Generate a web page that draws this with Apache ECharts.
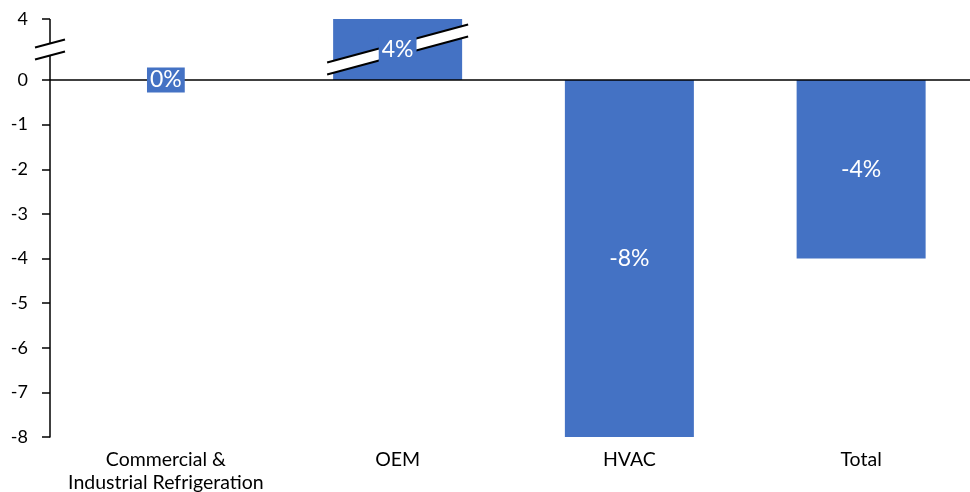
<!DOCTYPE html>
<html><head><meta charset="utf-8">
<script src="https://cdn.jsdelivr.net/npm/echarts@6/dist/echarts.min.js"></script>
<style>html,body{margin:0;padding:0;background:#fff}#c{width:970px;height:492px}</style>
</head><body><div id="c"></div><script>
const categories = ['Commercial &\nIndustrial Refrigeration', 'OEM', 'HVAC', 'Total'];
const values = [0, 4, -8, -4];
const valueLabels = ['0%', '4%', '-8%', '-4%'];
const yTicks = [4, 0, -1, -2, -3, -4, -5, -6, -7, -8];
const breakStart = 0, breakEnd = 4;

const BLUE = '#4472C4';
const FONT = 'Lato';
const BAR_W = 129;
const chart = echarts.init(document.getElementById('c'), null, {renderer: 'canvas'});
const option = {
  animation: false,
  grid: {left: 50, top: 19, width: 927, bottom: 55, outerBoundsMode: 'none', containLabel: false},
  xAxis: {
    type: 'category', data: categories, position: 'bottom',
    axisLine: {show: false}, axisTick: {show: false},
    axisLabel: {fontFamily: FONT, fontSize: 19.5, color: '#000', margin: 11, lineHeight: 23, interval: 0}
  },
  yAxis: {
    type: 'value', min: -8, max: 4, interval: 1,
    breaks: [{start: breakStart, end: breakEnd, gap: 1.367}],
    breakArea: {show: false},
    axisLine: {show: true, lineStyle: {color: '#000', width: 1.5}},
    axisTick: {show: true, length: 8, lineStyle: {color: '#000', width: 1.5}},
    splitLine: {show: false},
    axisLabel: {
      formatter: v => yTicks.includes(v) ? String(v) : '',
      fontFamily: FONT, fontSize: 18, color: '#000', margin: 22
    }
  },
  series: [
    {
      type: 'bar', data: values, barWidth: BAR_W, itemStyle: {color: BLUE}, z: 2,
      markLine: {
        silent: true, symbol: 'none', label: {show: false},
        lineStyle: {color: '#000', width: 1.5, type: 'solid'},
        data: [{yAxis: 0}]
      }
    },
    {
      type: 'bar', barWidth: BAR_W, barGap: '-100%', z: 5,
      itemStyle: {color: 'rgba(0,0,0,0)'},
      data: values.map((v, i) => ({
        value: v,
        label: (i <= 1) ? {backgroundColor: BLUE, padding: [1, 3]} : {}
      })),
      label: {
        show: true, position: 'inside', color: '#fff', fontFamily: FONT, fontSize: 23,
        formatter: p => valueLabels[p.dataIndex]
      }
    }
  ]
};
chart.setOption(option);

function breakMark(cx, cy, halfW) {
  const s = -0.27, h = 6;
  const x0 = cx - halfW, x1 = cx + halfW;
  const yt = x => cy - h + s * (x - cx);
  const yb = x => cy + h + s * (x - cx);
  return [
    {type: 'polygon', z: 3, silent: true,
     shape: {points: [[x0, yt(x0)], [x1, yt(x1)], [x1, yb(x1)], [x0, yb(x0)]]},
     style: {fill: '#fff'}},
    {type: 'polyline', z: 3, silent: true,
     shape: {points: [[x0, yt(x0)], [x1, yt(x1)]]}, style: {stroke: '#000', lineWidth: 2}},
    {type: 'polyline', z: 3, silent: true,
     shape: {points: [[x0, yb(x0)], [x1, yb(x1)]]}, style: {stroke: '#000', lineWidth: 2}}
  ];
}
const y0 = chart.convertToPixel({yAxisIndex: 0}, breakStart);
const y4 = chart.convertToPixel({yAxisIndex: 0}, breakEnd);
const cy = (y0 + y4) / 2;
const c0 = chart.convertToPixel({xAxisIndex: 0}, 0);
const c1 = chart.convertToPixel({xAxisIndex: 0}, 1);
const axisX = c0 - (c1 - c0) / 2;
chart.setOption({
  graphic: [
    {type: 'line', z: 2, silent: true,
     shape: {x1: axisX, y1: y4, x2: axisX, y2: y0},
     style: {stroke: '#000', lineWidth: 1.5}}
  ].concat(breakMark(axisX, cy, 15), breakMark(c1, cy, BAR_W / 2 + 6))
});
</script></body></html>
